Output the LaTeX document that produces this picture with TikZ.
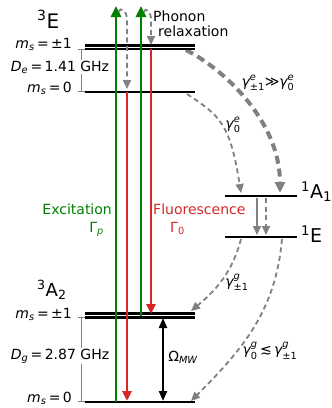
\documentclass[tikz,border=0pt]{standalone}
\usepackage{amsmath}
\usepackage{fontspec}
\setmainfont{DejaVu Sans}
\usetikzlibrary{arrows.meta, calc}

\definecolor{exgreen}{HTML}{008000}
\definecolor{flred}{HTML}{D62728}
\definecolor{relgray}{HTML}{808080}

% italic letters in the sans text font
\newcommand{\tx}[1]{\text{\itshape #1}}
\newcommand{\msl}[1]{$\tx{m}_{\tx{s}}\,\text{=}\,\text{#1}$}

\begin{document}
\begin{tikzpicture}[x=1pt, y=-1pt,
    every node/.style={font=\fontsize{14}{16}\selectfont, inner sep=0pt},
    level/.style={line width=2.6pt},
    pump/.style={exgreen, line width=2.6pt, -{Triangle[length=11pt,width=10pt]}},
    decay/.style={flred, line width=2.6pt, -{Triangle[length=10pt,width=9pt]}},
    relax/.style={relgray, line width=1.8pt, dash pattern=on 5pt off 3.5pt, -{Triangle[length=9pt,width=8pt]}},
    relax strong/.style={relax, line width=4pt, dash pattern=on 8pt off 5pt, -{Triangle[length=11pt,width=10pt]}},
    split/.style={relgray, line width=0.8pt, {Bar[width=7pt]}-{Bar[width=7pt]}},
    big label/.style={font=\fontsize{19}{22}\selectfont, anchor=base west},
    ms label/.style={anchor=base east},
    gap label/.style={anchor=base, fill=white, inner sep=1pt}
]
\useasboundingbox (0,0) rectangle (332,408);

% --- end points of the transitions ---
\coordinate (gs0) at (116,402);
\coordinate (gs1) at (141,316);
\coordinate (ex0) at (127,92);
\coordinate (ex1) at (151,49);
\coordinate (top0) at (116,6);
\coordinate (top1) at (141,6);
\coordinate (fl0) at (127,401);
\coordinate (fl1) at (151,314);
\coordinate (mw1) at (163,318);
\coordinate (mw0) at (163,401);
\coordinate (ph0s) at (119,12);
\coordinate (ph0m) at (127,18);
\coordinate (ph0e) at (127,89);
\coordinate (ph1s) at (144,12);
\coordinate (ph1m) at (151,18);
\coordinate (ph1e) at (151,45);
\coordinate (ex1r) at (186,50);
\coordinate (ex0r) at (187,94);
\coordinate (a1a) at (241,193);
\coordinate (a1b) at (280,193);
\coordinate (a1s) at (257,198);
\coordinate (a1d) at (266,198);
\coordinate (e1s) at (257,235);
\coordinate (e1d) at (266,235);
\coordinate (e1a) at (241,239);
\coordinate (e1b) at (282,239);
\coordinate (gs1r) at (191,311);
\coordinate (gs0r) at (191,401);

% intersystem crossing
\draw[relax strong] (ex1r) .. controls (222,68) and (280,120) .. (a1b);
\draw[relax] (ex0r) .. controls (220,116) and (230,123) .. (a1a);
\draw[relgray, line width=1.8pt, -{Triangle[length=9pt,width=8pt]}] (a1s) -- (e1s);
\draw[relax] (a1d) -- (e1d);
\draw[relax] (e1a) to[out=-105, in=40] (gs1r);
\draw[relax] (e1b) to[out=-95, in=45] (gs0r);

% --- levels ---
\draw[level] (85,45.5) -- (195,45.5);
\draw[level] (85,49) -- (195,49);
\draw[level] (85,92) -- (195,92);
\draw[level] (225,196) -- (297,196);
\draw[level] (225,237) -- (297,237);
\draw[level] (85,313.5) -- (195,313.5);
\draw[level] (85,317.5) -- (195,317.5);
\draw[level] (85,402) -- (195,402);

% --- optical transitions ---
\draw[pump] (gs0) -- (top0);
\draw[pump] (gs1) -- (top1);
\draw[decay] (ex0) -- (fl0);
\draw[decay] (ex1) -- (fl1);

% phonon relaxation
\draw[relax] (ph0s) to[out=80, in=90, looseness=1.6] (ph0m) -- (ph0e);
\draw[relax] (ph1s) to[out=80, in=90, looseness=1.6] (ph1m) -- (ph1e);

% microwave drive
\draw[line width=2.2pt, {Triangle[length=10pt,width=8pt]}-{Triangle[length=10pt,width=8pt]}] (mw1) -- (mw0);

% zero-field splittings
\draw[split] (81,49) -- (81,92);
\draw[split] (81,317) -- (81,402);
\node[gap label] (De) at (60,71) {$\tx{D}_{\tx{e}}\,\text{=}\,\text{1.41 GHz}$};
\node[gap label] (Dg) at (60,359) {$\tx{D}_{\tx{g}}\,\text{=}\,\text{2.87 GHz}$};

% --- state labels ---
\node[big label, font=\fontsize{20}{22}\selectfont] (E3) at (37,28) {$^{\text{3}}$E};
\node[big label, font=\fontsize{18}{22}\selectfont] (A2) at (37,296) {$^{\text{3}}$A$_{\text{2}}$};
\node[big label] (A1) at (301,198) {$^{\text{1}}$A$_{\text{1}}$};
\node[big label] (E1) at (301,242) {$^{\text{1}}$E};

\node[ms label] (ms1e) at (72,48) {\msl{±1}};
\node[ms label] (ms0e) at (72,92) {\msl{0}};
\node[ms label] (ms1g) at (72,318) {\msl{±1}};
\node[ms label] (ms0g) at (72,402) {\msl{0}};

% --- transition labels ---
\node[anchor=base west] (phonon) at (153,21) {Phonon};
\node[anchor=base west] (relaxtext) at (158,36) {relaxation};
\node[anchor=base east, text=exgreen] (exc) at (112,214) {Excitation};
\node[anchor=base east, text=exgreen] (gp) at (104,232) {$\text{Γ}_{\tx{p}}$};
\node[anchor=base west, text=flred] (flu) at (153,214) {Fluorescence};
\node[anchor=base west, text=flred] (g0) at (170,232) {$\text{Γ}_{\text{0}}$};

\node (ge1) at (268,83) {$\tx{γ}^{\tx{e}}_{\text{±1}}\text{≫}\tx{γ}^{\tx{e}}_{\text{0}}$};
\node (ge0) at (233,125) {$\tx{γ}^{\tx{e}}_{\text{0}}$};
\node (gg1) at (237,282) {$\tx{γ}^{\tx{g}}_{\text{±1}}$};
\node (gg0) at (270,351) {$\tx{γ}^{\tx{g}}_{\text{0}}\,\text{≲}\,\tx{γ}^{\tx{g}}_{\text{±1}}$};
\node (omw) at (183,357) {$\text{Ω}_{\tx{MW}}$};
\end{tikzpicture}
\end{document}
